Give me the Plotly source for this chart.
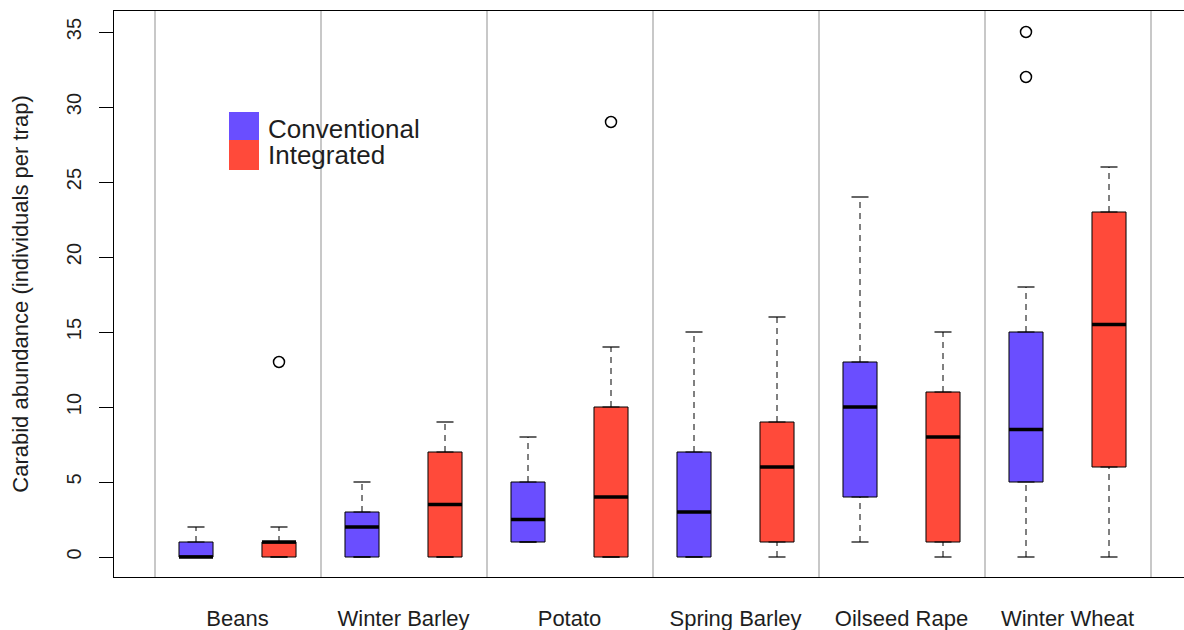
import plotly.graph_objects as go

categories = ["Beans", "Winter Barley", "Potato", "Spring Barley", "Oilseed Rape", "Winter Wheat"]
series_names = ["Conventional", "Integrated"]

conv_low = [0, 0, 1, 0, 1, 0]
conv_q1 = [0, 0, 1, 0, 4, 5]
conv_med = [0, 2, 2.5, 3, 10, 8.5]
conv_q3 = [1, 3, 5, 7, 13, 15]
conv_high = [2, 5, 8, 15, 24, 18]
conv_out = [[], [], [], [], [], [32, 35]]

int_low = [0, 0, 0, 0, 0, 0]
int_q1 = [0, 0, 0, 1, 1, 6]
int_med = [1, 3.5, 4, 6, 8, 15.5]
int_q3 = [1, 7, 10, 9, 11, 23]
int_high = [2, 9, 14, 16, 15, 26]
int_out = [[13], [], [29], [], [], []]

y_ticks = [0, 5, 10, 15, 20, 25, 30, 35]

BLUE = "#6A4EFF"
RED = "#FF4A3A"
TXT = "#1e1e1e"
FONT = "Liberation Sans, Arial, sans-serif"
BOXW = 0.41
CAPW = BOXW / 2

n = len(categories)
conv_x = [2 * i + 1 for i in range(n)]
int_x = [2 * i + 2 for i in range(n)]
label_x = [2 * i + 1.5 for i in range(n)]

fig = go.Figure()

series = [
    (series_names[0], conv_x, conv_low, conv_q1, conv_med, conv_q3, conv_high, conv_out, BLUE),
    (series_names[1], int_x, int_low, int_q1, int_med, int_q3, int_high, int_out, RED),
]

for name, xs, lo, q1, med, q3, hi, outs, col in series:
    # dashed whiskers
    wx, wy = [], []
    for x, a, b, c, d in zip(xs, lo, q1, q3, hi):
        wx += [x, x, None, x, x, None]
        wy += [a, b, None, c, d, None]
    fig.add_trace(go.Scatter(x=wx, y=wy, mode="lines", showlegend=False, hoverinfo="skip",
                             line=dict(color="black", width=1, dash="6px,5px")))
    # caps
    cx, cy = [], []
    for x, a, d in zip(xs, lo, hi):
        cx += [x - CAPW / 2, x + CAPW / 2, None, x - CAPW / 2, x + CAPW / 2, None]
        cy += [a, a, None, d, d, None]
    fig.add_trace(go.Scatter(x=cx, y=cy, mode="lines", showlegend=False, hoverinfo="skip",
                             line=dict(color="black", width=1.2)))
    # box bodies
    fig.add_trace(go.Box(name=name, x=xs, q1=q1, median=med, q3=q3, lowerfence=q1, upperfence=q3,
                         width=BOXW, fillcolor=col, line=dict(color="black", width=1),
                         showlegend=False, boxpoints=False))
    # thick medians
    mx, my = [], []
    for x, m in zip(xs, med):
        mx += [x - BOXW / 2, x + BOXW / 2, None]
        my += [m, m, None]
    fig.add_trace(go.Scatter(x=mx, y=my, mode="lines", showlegend=False, hoverinfo="skip",
                             line=dict(color="black", width=3.5)))
    # outliers
    ox, oy = [], []
    for x, o in zip(xs, outs):
        for v in o:
            ox.append(x)
            oy.append(v)
    fig.add_trace(go.Scatter(x=ox, y=oy, mode="markers", showlegend=False,
                             marker=dict(symbol="circle-open", size=11, color="black",
                                         line=dict(width=1.5, color="black"))))

W, H = 1184, 630
L, R, T, B = 114, 0, 11, 53
pw, ph = W - L - R, H - T - B

def px(xp):
    return (xp - L) / pw

def py(yp):
    return (H - B - yp) / ph

# legend drawn as layout decoration
shapes = [
    dict(type="rect", xref="paper", yref="paper", x0=px(229), x1=px(259), y0=py(140), y1=py(112),
         fillcolor=BLUE, line=dict(width=0)),
    dict(type="rect", xref="paper", yref="paper", x0=px(229), x1=px(259), y0=py(170), y1=py(140),
         fillcolor=RED, line=dict(width=0)),
]
legend_text = "<br>".join("<span style='font-size:26px'>%s</span>" % s for s in series_names)
annotations = [
    dict(xref="paper", yref="paper", x=px(266), y=py(142), text=legend_text, showarrow=False,
         xanchor="left", yanchor="middle", align="left",
         font=dict(size=20, color=TXT, family=FONT)),
]

x0 = 1 - (196 - L) / 83
x1 = x0 + pw / 83
y0 = -(H - B - 557) / 15
y1 = y0 + ph / 15

fig.update_layout(
    width=W, height=H,
    margin=dict(l=L, r=R, t=T, b=B, autoexpand=False),
    paper_bgcolor="white", plot_bgcolor="white",
    font=dict(family=FONT, color=TXT),
    boxmode="overlay",
    showlegend=False,
    shapes=shapes,
    annotations=annotations,
    xaxis=dict(
        range=[x0, x1], showgrid=False, zeroline=False,
        tickmode="array", tickvals=label_x, ticktext=categories,
        ticks="", tickfont=dict(size=22, color=TXT), ticklabelstandoff=21,
        showline=True, linecolor="black", linewidth=1.2, mirror=True,
        minor=dict(tickmode="linear", tick0=0.5, dtick=2, showgrid=True,
                   gridcolor="#c8c8c8", gridwidth=1.5, ticks=""),
    ),
    yaxis=dict(
        range=[y0, y1], showgrid=False, zeroline=False,
        tickmode="array", tickvals=y_ticks, ticktext=[str(v) for v in y_ticks],
        ticks="outside", ticklen=14, tickcolor="black", tickwidth=1,
        tickangle=-90, tickfont=dict(size=20, color=TXT), ticklabelstandoff=10,
        showline=True, linecolor="black", linewidth=1.2, mirror=False,
        title=dict(text="Carabid abundance (individuals per trap)", font=dict(size=22, color=TXT), standoff=28),
    ),
)

fig.write_html("out.html")
